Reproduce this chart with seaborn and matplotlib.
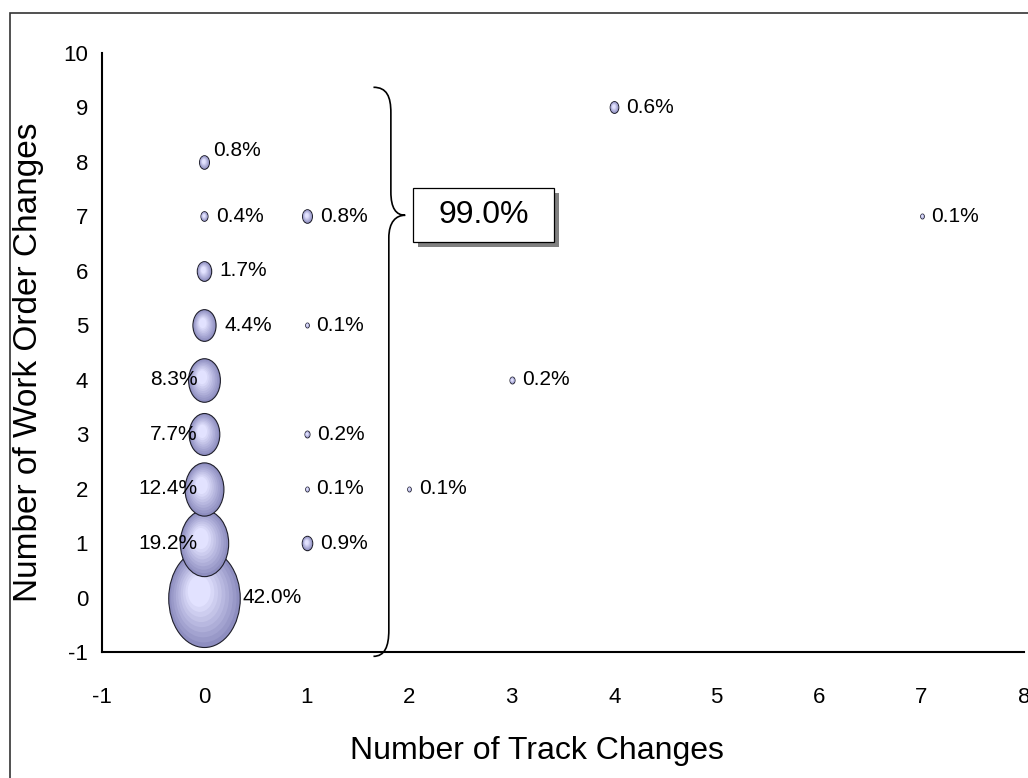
import numpy as np
import pandas as pd
import matplotlib
matplotlib.use("Agg")
import matplotlib.pyplot as plt
from matplotlib.path import Path
from matplotlib.patches import PathPatch, Rectangle
from matplotlib.transforms import ScaledTranslation
from matplotlib.colors import to_rgb
import seaborn as sns

# ── data ─────────────────────────────────────────────────────────────────────
TRACK_CHANGES      = [0, 0, 0, 0, 0, 0, 0, 0, 0, 1, 1, 1, 1, 1, 2, 3, 4, 7]
WORK_ORDER_CHANGES = [0, 1, 2, 3, 4, 5, 6, 7, 8, 1, 2, 3, 5, 7, 2, 4, 9, 7]
SHARE_PCT          = [42.0, 19.2, 12.4, 7.7, 8.3, 4.4, 1.7, 0.4, 0.8,
                      0.9, 0.1, 0.2, 0.1, 0.8, 0.1, 0.2, 0.6, 0.1]
LABEL_SIDE         = ["right", "left", "left", "left", "left", "right", "right",
                      "right", "above", "right", "right", "right", "right",
                      "right", "right", "right", "right", "right"]

X_TICKS = list(range(-1, 9))
Y_TICKS = list(range(-1, 11))

# ── style ────────────────────────────────────────────────────────────────────
sns.set_theme(style="white")
plt.rcParams["font.family"] = ["Liberation Sans", "DejaVu Sans"]
plt.rcParams["axes.unicode_minus"] = False
plt.rcParams["text.color"] = "black"
plt.rcParams["axes.labelcolor"] = "black"

DPI = 100
BUBBLE_MAX_PX = 98          # height of the largest bubble
ASPECT = 0.73               # bubbles are drawn taller than wide
OUTER = np.array(to_rgb("#8e8ec0"))
INNER = np.array(to_rgb("#e2e2ff"))
EDGE = "#1e1e2a"


def bubble_path(f=1.0, shift=0.0):
    """Ellipse marker; two stray MOVETOs keep matplotlib's rescale fixed."""
    circ = Path.unit_circle()
    verts = circ.vertices * [ASPECT * f, f] + [-ASPECT * shift, shift]
    verts = np.vstack([[0, 1], [0, -1], verts])
    codes = np.concatenate([[Path.MOVETO, Path.MOVETO], circ.codes])
    return Path(verts, codes)


df = pd.DataFrame({"tracks": TRACK_CHANGES, "orders": WORK_ORDER_CHANGES,
                   "pct": SHARE_PCT, "side": LABEL_SIDE})
vmax = df["pct"].max()
df["height_px"] = BUBBLE_MAX_PX * np.sqrt(df["pct"] / vmax)
df["s"] = (df["height_px"] * 72 / DPI) ** 2
df = df.sort_values("pct", ascending=False).reset_index(drop=True)

fig = plt.figure(figsize=(10.28, 7.78), dpi=DPI)
ax = fig.add_axes([0.0992, 0.162, 0.8969, 0.7699])

# ── bubbles (big first so small ones sit on top) ─────────────────────────────
n_layers = 9
for rank, row in df.iterrows():
    z = 3 + rank
    sns.scatterplot(x=[row["tracks"]], y=[row["orders"]], s=row["s"],
                    marker=bubble_path(), color=OUTER, edgecolor=EDGE,
                    linewidth=0.8, zorder=z, legend=False, ax=ax)
    for k in range(1, n_layers):
        f = 1 - k * 0.085
        t = k / (n_layers - 1)
        ax.scatter([row["tracks"]], [row["orders"]], s=row["s"],
                   marker=bubble_path(f, 0.22 * (1 - f)),
                   color=OUTER + (INNER - OUTER) * t, linewidths=0,
                   zorder=z + k * 0.01)

# ── data labels ──────────────────────────────────────────────────────────────
px = 72 / DPI
for _, row in df.iterrows():
    half_w = row["height_px"] * ASPECT / 2
    label = f"{row['pct']:.1f}%"
    if row["side"] == "left":
        off, ha = (-7 * px, 0), "right"
    elif row["side"] == "above":
        off, ha = ((half_w + 4) * px, 11 * px), "left"
    else:
        gap = 2 if row["pct"] == vmax else 8
        off, ha = ((half_w + gap) * px, 0), "left"
    ax.annotate(label, (row["tracks"], row["orders"]), xytext=off,
                textcoords="offset points", ha=ha, va="center",
                fontsize=15, color="black", zorder=50)

# ── brace + total box ────────────────────────────────────────────────────────
total_near = df.loc[df["tracks"] <= 1, "pct"].sum()
brace = Path(
    [(1.65, 9.37), (1.78, 9.37), (1.82, 9.2), (1.82, 8.9),
     (1.82, 7.45),
     (1.82, 7.15), (1.87, 7.02), (1.96, 7.02),
     (1.87, 7.02), (1.80, 6.9), (1.80, 6.6),
     (1.80, -0.6),
     (1.80, -0.9), (1.76, -1.08), (1.65, -1.08)],
    [Path.MOVETO, Path.CURVE4, Path.CURVE4, Path.CURVE4,
     Path.LINETO,
     Path.CURVE4, Path.CURVE4, Path.CURVE4,
     Path.CURVE4, Path.CURVE4, Path.CURVE4,
     Path.LINETO,
     Path.CURVE4, Path.CURVE4, Path.CURVE4])
ax.add_patch(PathPatch(brace, fill=False, lw=1.2, ec="black",
                       clip_on=False, zorder=20))

box_xy, box_w, box_h = (2.04, 6.53), 1.37, 0.99
shadow = Rectangle(box_xy, box_w, box_h, fc="#808080", ec="none", zorder=20,
                   transform=ax.transData + ScaledTranslation(0.05, -0.05, fig.dpi_scale_trans))
ax.add_patch(shadow)
ax.add_patch(Rectangle(box_xy, box_w, box_h, fc="white", ec="black",
                       lw=0.9, zorder=21))
ax.text(box_xy[0] + box_w / 2, box_xy[1] + box_h / 2, f"{total_near:.1f}%",
        ha="center", va="center", fontsize=23, zorder=22)

# ── axes ─────────────────────────────────────────────────────────────────────
ax.set_xlim(-1, 8)
ax.set_ylim(-1, 10)
ax.set_xticks(X_TICKS)
ax.set_yticks(Y_TICKS)
ax.grid(False)
for side in ["top", "right"]:
    ax.spines[side].set_visible(False)
for side in ["left", "bottom"]:
    ax.spines[side].set_color("black")
    ax.spines[side].set_linewidth(1.5)
ax.tick_params(axis="both", direction="in", length=5, width=1.4,
               colors="black", labelsize=16)
ax.tick_params(axis="x", pad=25)
ax.tick_params(axis="y", pad=10)

ax.set_xlabel("Number of Track Changes", fontsize=23)
ax.set_ylabel("Number of Work Order Changes", fontsize=24)
ax.xaxis.set_label_coords(0.472, -0.140)
ax.yaxis.set_label_coords(-0.063, 0.484)

# outer frame, cut off on right and bottom like the source image
fig.add_artist(Rectangle((10 / 1028, -0.05), 1.05, 1 - 13 / 778 + 0.05,
                         transform=fig.transFigure, fill=False,
                         ec="#333333", lw=1.2))

fig.savefig("out.png", dpi=DPI)
plt.close(fig)
